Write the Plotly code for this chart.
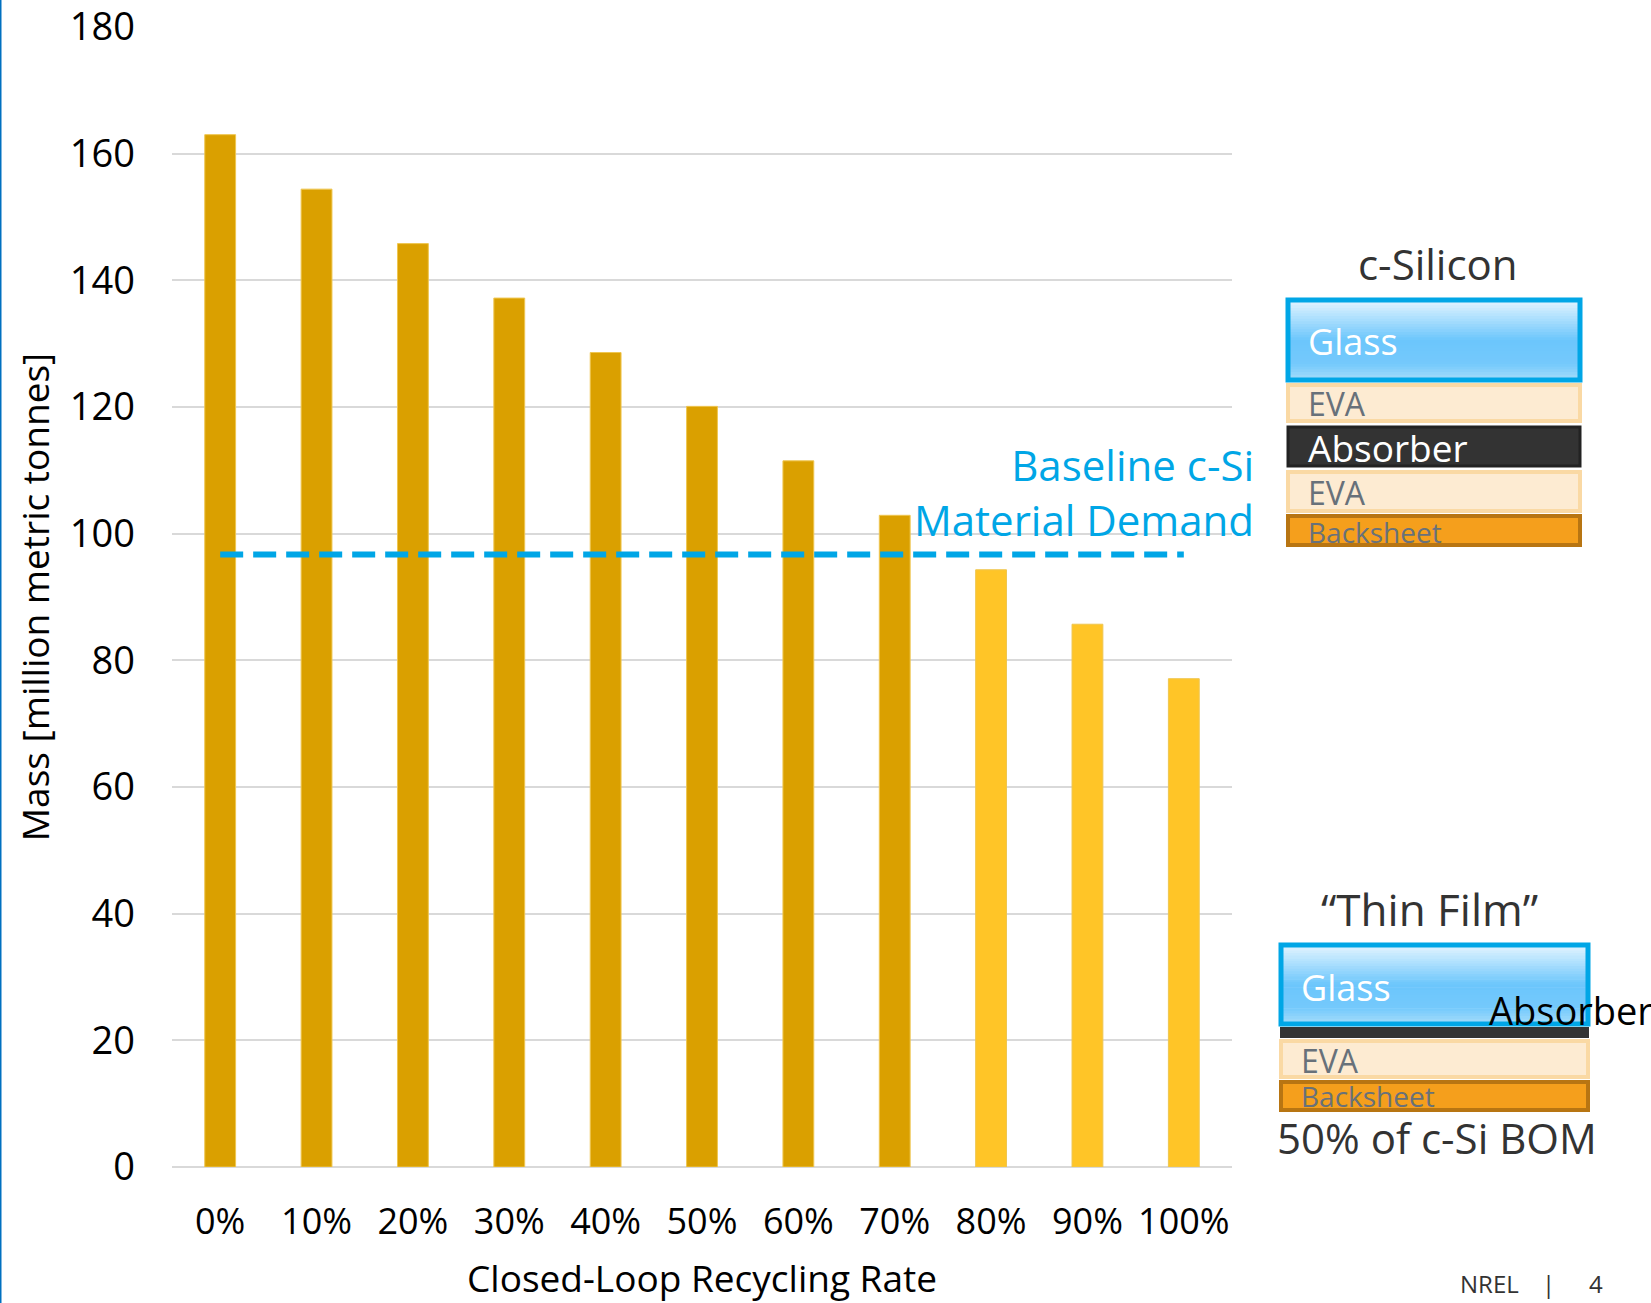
import plotly.graph_objects as go

# Closed-loop recycling scenarios and resulting material demand
rates = ["0%", "10%", "20%", "30%", "40%", "50%", "60%", "70%", "80%", "90%", "100%"]
mass_mmt = [163.0, 154.4, 145.8, 137.2, 128.6, 120.1, 111.5, 102.9, 94.3, 85.7, 77.1]
baseline_mmt = 96.7
y_ticks = [0, 20, 40, 60, 80, 100, 120, 140, 160, 180]

W, H = 1651, 1303
ML, MR, MT, MB = 172, 419, 27, 136
PW, PH = W - ML - MR, H - MT - MB

DARK_GOLD = "#DAA000"
LIGHT_GOLD = "#FFC527"
CYAN = "#00A6E6"
FONT = "Open Sans"


def px(x):
    return (x - ML) / PW


def py(y):
    return (H - MB - y) / PH


bar_colors = [LIGHT_GOLD if m < baseline_mmt else DARK_GOLD for m in mass_mmt]

fig = go.Figure()
fig.add_trace(go.Bar(
    x=rates, y=mass_mmt,
    marker=dict(color=bar_colors, line=dict(color="#EFC650", width=1)),
    showlegend=False, hoverinfo="x+y",
))
fig.add_trace(go.Scatter(
    x=[rates[0], rates[-1]], y=[baseline_mmt, baseline_mmt],
    mode="lines", line=dict(color=CYAN, width=6, dash="23px,10px"),
    showlegend=False, hoverinfo="skip",
))

shapes = []
annotations = []


def rect(x0, y0, x1, y1, fill, border=None, bw=0):
    shapes.append(dict(
        type="rect", xref="paper", yref="paper",
        x0=px(x0), x1=px(x1), y0=py(y1), y1=py(y0),
        fillcolor=fill, layer="above",
        line=dict(color=border or fill, width=bw),
    ))


def label(x, y, text, size, color, anchor="left"):
    annotations.append(dict(
        xref="paper", yref="paper", x=px(x), y=py(y), text=text,
        showarrow=False, xanchor=anchor, yanchor="middle",
        font=dict(family=FONT, size=size, color=color),
    ))


def mix(c1, c2, t):
    a = [int(c1[i:i + 2], 16) for i in (1, 3, 5)]
    b = [int(c2[i:i + 2], 16) for i in (1, 3, 5)]
    return "#" + "".join(f"{round(a[k] + (b[k] - a[k]) * t):02X}" for k in range(3))


def glass(x0, y0, x1, y1):
    # vertical light-blue gradient built from thin strips
    stops = [(0.0, "#E4F5FF"), (0.5, "#6CC6FC"), (0.8, "#74C9FC"), (1.0, "#A6DDFA")]
    n = 30
    h = (y1 - y0) / n
    for i in range(n):
        t = (i + 0.5) / n
        for j in range(len(stops) - 1):
            if stops[j][0] <= t <= stops[j + 1][0]:
                f = (t - stops[j][0]) / (stops[j + 1][0] - stops[j][0])
                c = mix(stops[j][1], stops[j + 1][1], f)
                break
        rect(x0, y0 + i * h, x1, y0 + (i + 1) * h + 0.6, c)
    shapes.append(dict(
        type="rect", xref="paper", yref="paper",
        x0=px(x0), x1=px(x1), y0=py(y1), y1=py(y0),
        fillcolor="rgba(0,0,0,0)", layer="above",
        line=dict(color="#00A6E6", width=5),
    ))


EVA_FILL, EVA_LINE = "#FDEBD2", "#FAD9A4"
BACK_FILL, BACK_LINE = "#F59F1C", "#B87512"
GREY_TXT = "#68717A"

# c-Silicon module stack
label(1438, 263, "c-Silicon", 42, "#333333", "center")
glass(1288, 300, 1580, 380)
label(1306, 342, "Glass", 36, "white")
rect(1288, 385, 1580, 421, EVA_FILL, EVA_LINE, 4)
label(1306, 403, "EVA", 32, GREY_TXT)
rect(1288, 427, 1580, 466, "#333333", "#222222", 3)
label(1306, 447, "Absorber", 37, "white")
rect(1288, 472, 1580, 511, EVA_FILL, EVA_LINE, 4)
label(1306, 492, "EVA", 32, GREY_TXT)
rect(1288, 516, 1580, 545, BACK_FILL, BACK_LINE, 4)
label(1306, 532, "Backsheet", 28, GREY_TXT)

# Thin-film module stack
label(1429, 909, "\u201cThin Film\u201d", 44, "#333333", "center")
glass(1281, 945, 1588, 1024)
label(1299, 987, "Glass", 36, "white")
rect(1280, 1027, 1589, 1038, "#333333")
rect(1281, 1041, 1588, 1077, EVA_FILL, EVA_LINE, 4)
label(1299, 1060, "EVA", 32, GREY_TXT)
rect(1281, 1082, 1588, 1110, BACK_FILL, BACK_LINE, 4)
label(1299, 1096, "Backsheet", 28, GREY_TXT)
label(1487, 1010, "Absorber", 38, "black")
label(1275, 1137, "50% of c-Si BOM", 42, "#333333")

# Baseline caption
annotations.append(dict(
    xref="paper", yref="paper", x=px(1256), y=py(492),
    text="Baseline c-Si<br>Material Demand", showarrow=False,
    xanchor="right", yanchor="middle", align="right",
    font=dict(family=FONT, size=42, color=CYAN),
))

# Footer
label(1458, 1283, "NREL", 24, "#333333")
label(1548, 1283, "|", 24, "#333333", "center")
label(1587, 1283, "4", 24, "#333333")

# Slide edge
shapes.append(dict(type="line", xref="paper", yref="paper",
                   x0=px(0.5), x1=px(0.5), y0=py(H), y1=py(0),
                   line=dict(color="#0070C0", width=2), layer="above"))

fig.update_layout(
    width=W, height=H,
    margin=dict(l=ML, r=MR, t=MT, b=MB),
    paper_bgcolor="white", plot_bgcolor="white",
    bargap=0.68,
    font=dict(family=FONT, color="black"),
    shapes=shapes, annotations=annotations,
    xaxis=dict(
        type="category", showgrid=False, showline=False, zeroline=False,
        tickfont=dict(size=36, color="black"), ticklabelstandoff=30,
        ticklabeloverflow="allow",
        title=dict(text="Closed-Loop Recycling Rate", font=dict(size=37, color="black"), standoff=33),
        automargin=False,
    ),
    yaxis=dict(
        range=[0, 180], tickvals=y_ticks, showgrid=True,
        gridcolor="#D9D9D9", gridwidth=2, zeroline=True, zerolinecolor="#D9D9D9",
        zerolinewidth=2, showline=False,
        tickfont=dict(size=38, color="black"), ticklabelstandoff=36,
        ticklabeloverflow="allow",
        title=dict(text="Mass [million metric tonnes]", font=dict(size=37, color="black"), standoff=8),
        automargin=False,
    ),
)

fig.write_html("out.html")
